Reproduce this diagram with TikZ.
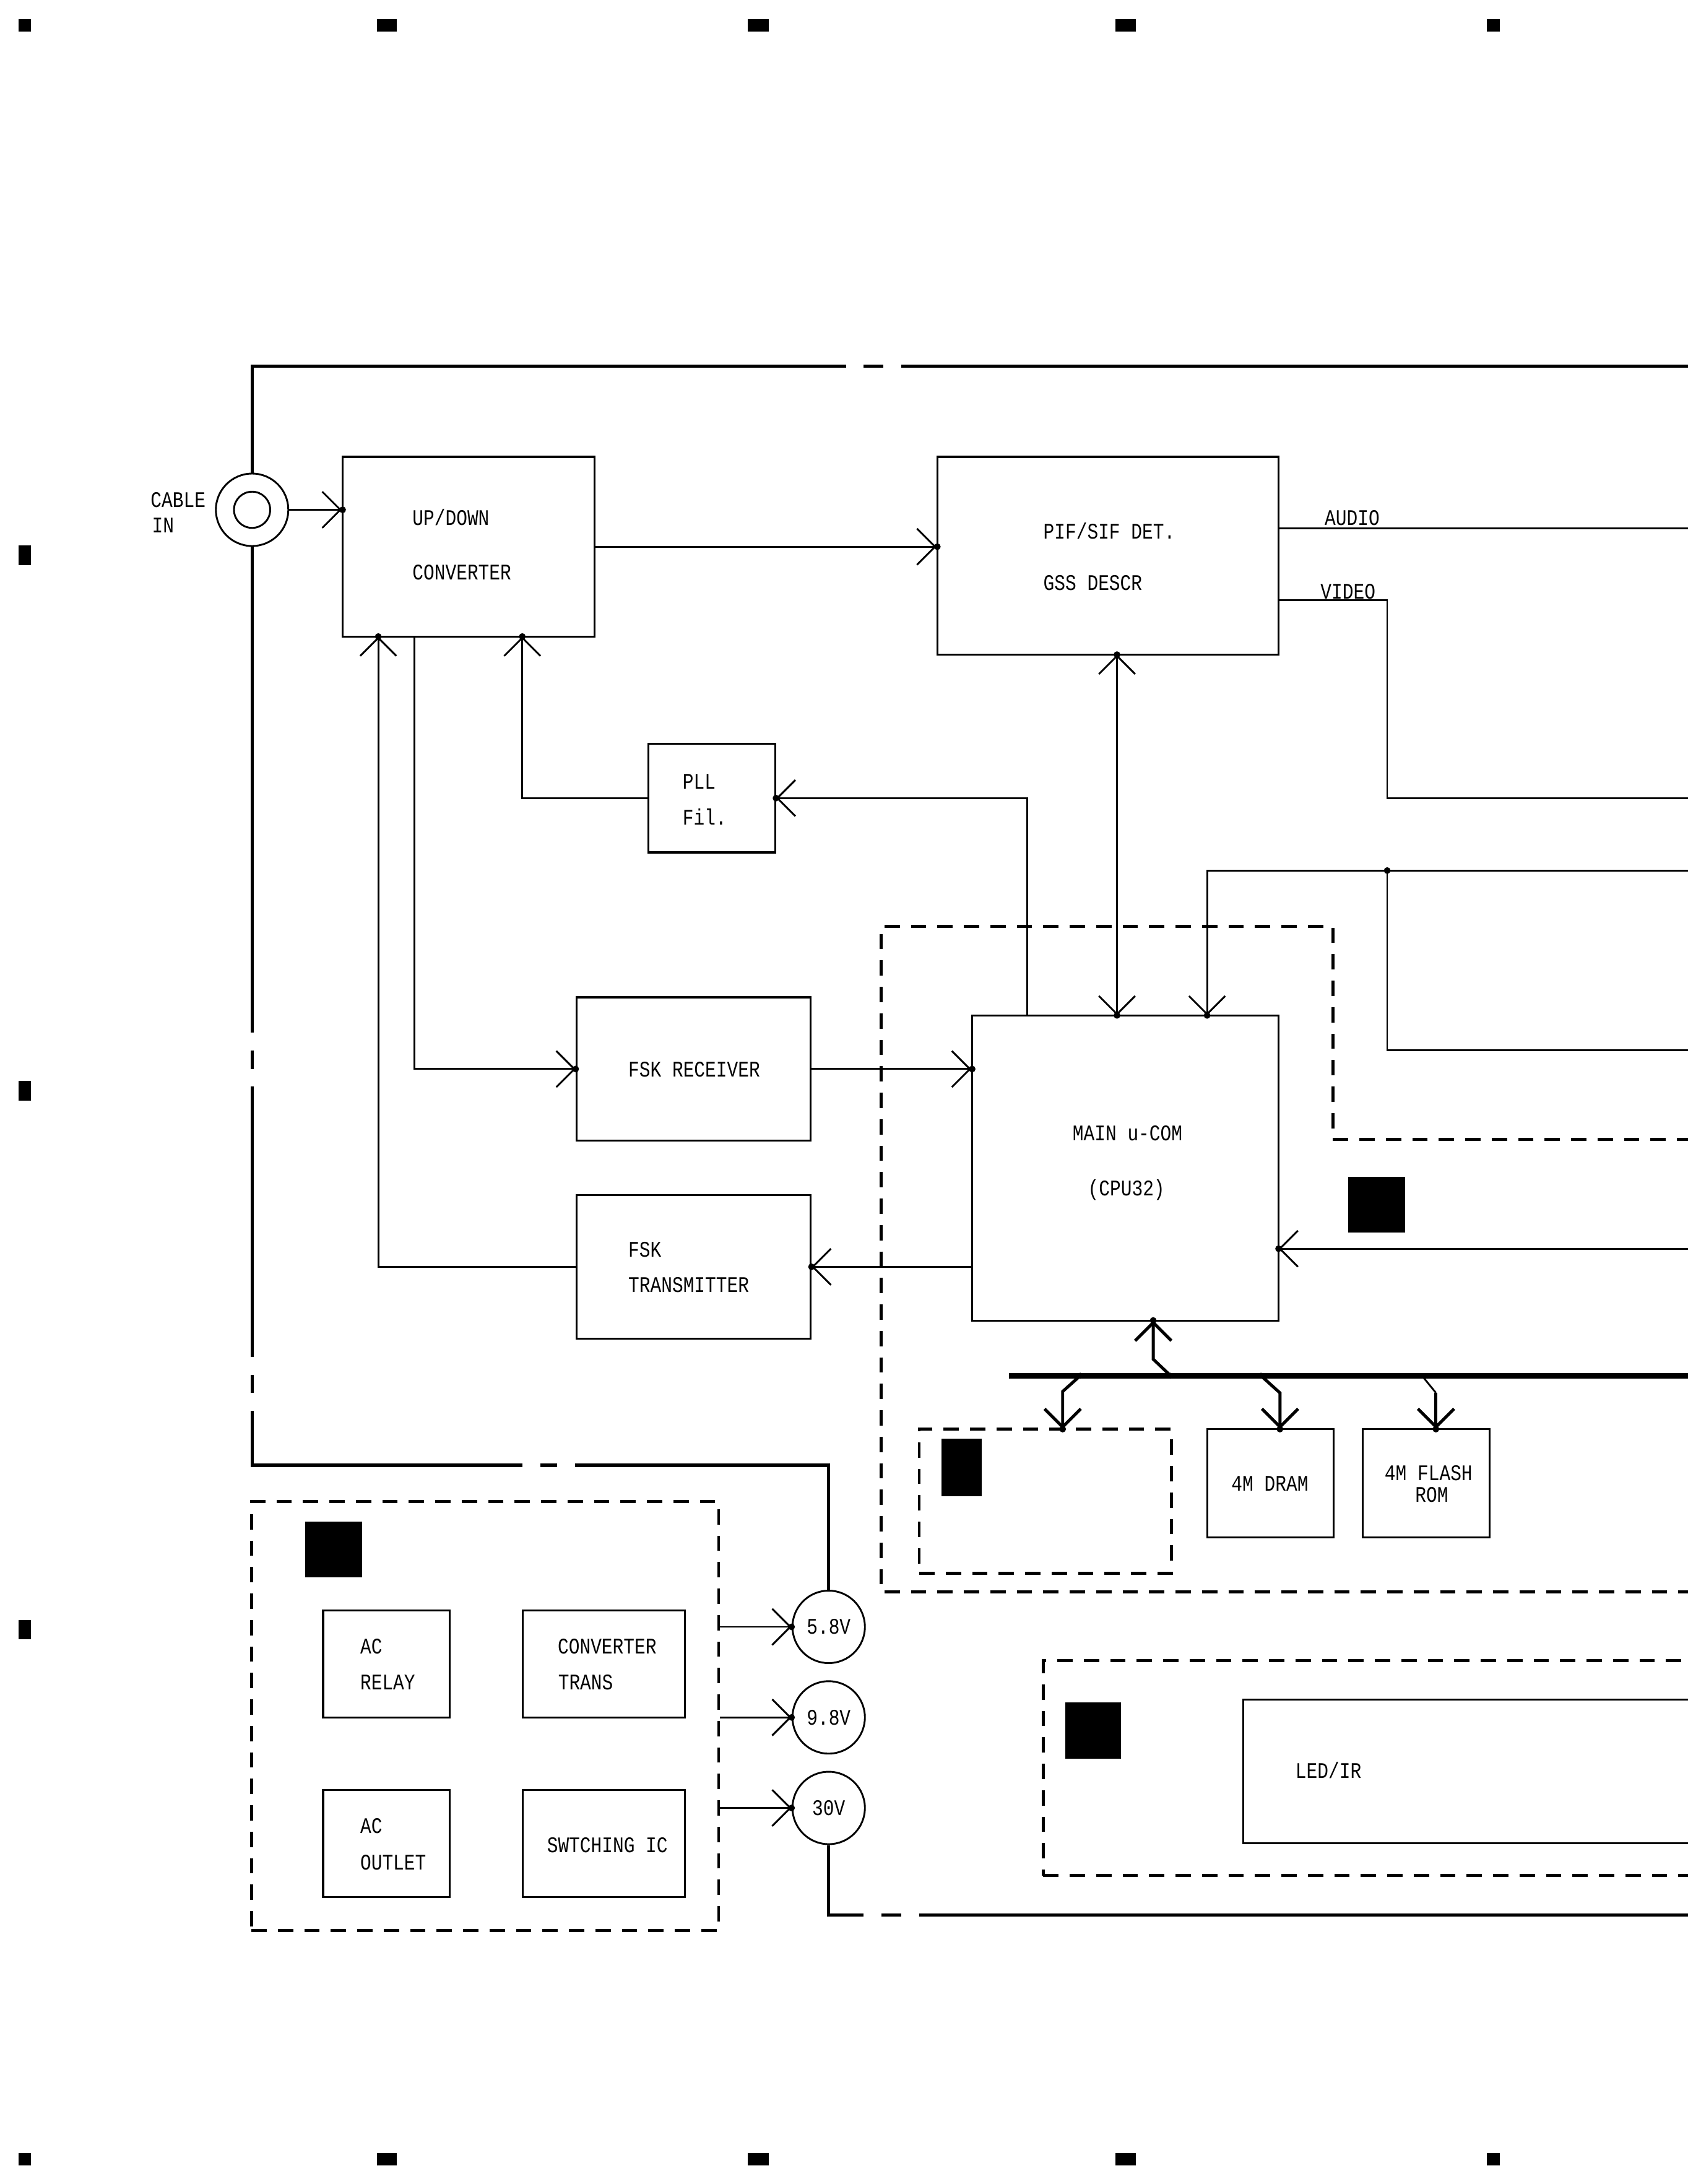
\documentclass[tikz,border=0pt]{standalone}
\usepackage{fontspec}
\newfontfamily\plotfont[FakeStretch=0.82]{Liberation Mono}
\usetikzlibrary{arrows.meta,fit}
\begin{document}
\begin{tikzpicture}[x=1pt,y=-1pt,
  box/.style={draw, line width=1.35pt, inner sep=0pt},
  dbox/.style={draw, line width=2.2pt, dash pattern=on 11pt off 8pt, inner sep=0pt},
  dline/.style={line width=2.2pt, dash pattern=on 11pt off 8pt},
  lbl/.style={inner sep=0pt, anchor=west, text height=10.5pt, text depth=0pt, font=\plotfont\fontsize{16pt}{18pt}\selectfont},
  wire/.style={line width=1.3pt},
  buswire/.style={line width=2.2pt},
  outer/.style={line width=2.3pt},
  arr/.style={-{Straight Barb[length=13pt,width=26pt]}},
  darr/.style={{Straight Barb[length=13pt,width=26pt]}-{Straight Barb[length=13pt,width=26pt]}},
  ring/.style={circle, draw, line width=1.3pt, inner sep=0pt, font=\plotfont\fontsize{16pt}{18pt}\selectfont},
  blk/.style={fill=black, draw=none, inner sep=0pt},
]
\useasboundingbox (0,0) rectangle (1212,1568);
\clip (0,0) rectangle (1212,1568);

% registration marks
\foreach \xa/\xb in {13.3/22.2, 270.7/284.9, 537/552, 801/815.5, 1067.5/1077}{
  \fill (\xa,13.8) rectangle (\xb,22.7);
  \fill (\xa,1545.8) rectangle (\xb,1554.7);
}
\foreach \yc in {398.7, 783, 1170}{
  \fill (13.3,\yc-7) rectangle (22.2,\yc+7);
}

% ---------- blocks ----------
\node[ring, minimum size=52pt] (cable) at (181,366) {};
\node[ring, minimum size=26pt] (cablecore) at (cable.center) {};
\node[lbl] (tcable) at (108,359) {CABLE};
\node[lbl] (tin) at (109,377) {IN};

\node[box, fit={(246,328) (427,457)}] (updown) {};
\node[lbl] (tud1) at (296,372) {UP/DOWN};
\node[lbl] (tud2) at (296,411) {CONVERTER};

\node[box, fit={(673,328) (918,470)}] (pif) {};
\node[lbl] (tpif1) at (749,381.5) {PIF/SIF DET.};
\node[lbl] (tpif2) at (749,418.5) {GSS DESCR};

\node[box, fit={(465.5,534) (556.5,612)}] (pll) {};
\node[lbl] (tpll1) at (490,561) {PLL};
\node[lbl] (tpll2) at (490,587) {Fil.};

\node[box, fit={(414,716) (582,819)}] (fskr) {};
\node[lbl] (tfskr) at (451,768) {FSK RECEIVER};

\node[box, fit={(414,858) (582,961)}] (fskt) {};
\node[lbl] (tfskt1) at (451,897) {FSK};
\node[lbl] (tfskt2) at (451,922.6) {TRANSMITTER};

\node[box, fit={(698,729) (918,948)}] (mcu) {};
\node[lbl] (tmcu1) at (770,813.6) {MAIN u-COM};
\node[lbl] (tmcu2) at (781,853) {(CPU32)};

\node[blk, fit={(968,845) (1009,885)}] (sq1) {};

% big dashed region
\draw[dline] (1215,818) -- (957,818) -- (957,665) -- (632.5,665) -- (632.5,1143) -- (1215,1143);

\node[dbox, fit={(660,1026) (841,1129.5)}] (sub) {};
\node[blk, fit={(676,1033) (705,1074)}] (sq2) {};

\node[box, fit={(867,1026) (957.5,1103.6)}] (dram) {};
\node[lbl] (tdram) at (884,1065) {4M DRAM};
\node[box, fit={(978.3,1026) (1069.5,1103.6)}] (flash) {};
\node[lbl] (tflash1) at (994,1057.6) {4M FLASH};
\node[lbl] (tflash2) at (1016,1073) {ROM};

% power block
\node[dbox, fit={(180.5,1078) (516,1386)}] (pwr) {};
\node[blk, fit={(219,1092.5) (260,1132.5)}] (sq3) {};
\node[box, fit={(232,1156) (323,1233)}] (acrelay) {};
\node[lbl] (tacr1) at (258.5,1182) {AC};
\node[lbl] (tacr2) at (258.5,1208) {RELAY};
\node[box, fit={(375.4,1156) (491.6,1233)}] (convtr) {};
\node[lbl] (tconv1) at (400.3,1182) {CONVERTER};
\node[lbl] (tconv2) at (400.6,1208) {TRANS};
\node[box, fit={(232,1285) (323,1362)}] (acout) {};
\node[lbl] (taco1) at (258.5,1311) {AC};
\node[lbl] (taco2) at (258.5,1337) {OUTLET};
\node[box, fit={(375.4,1285) (491.6,1362)}] (swic) {};
\node[lbl] (tswic) at (392.6,1324.6) {SWTCHING IC};

\node[ring, minimum size=52pt] (v58) at (595,1168) {5.8V};
\node[ring, minimum size=52pt] (v98) at (595,1233) {9.8V};
\node[ring, minimum size=52pt] (v30) at (595,1298) {30V};

% LED block
\node[dbox, fit={(749,1192.4) (1300,1346.5)}] (ledgrp) {};
\node[blk, fit={(765,1222) (805,1262.6)}] (sq4) {};
\node[box, fit={(892.5,1220) (1300,1323.5)}] (ledir) {};
\node[lbl] (tled) at (930,1271.5) {LED/IR};

% ---------- outer frame ----------
\draw[outer] (cable.north) -- (181,263) -- (607.5,263);
\draw[outer] (620,263) -- (634,263);
\draw[outer] (647,263) -- (1215,263);
\draw[outer] (cable.south) -- (181,741.5);
\draw[outer] (181,754) -- (181,767.6);
\draw[outer] (181,780) -- (181,974);
\draw[outer] (181,987) -- (181,1000);
\draw[outer] (181,1013) -- (181,1052) -- (375,1052);
\draw[outer] (388,1052) -- (400,1052);
\draw[outer] (413,1052) -- (595,1052) -- (v58.north);
\draw[outer] (v30.south) -- (595,1375) -- (620,1375);
\draw[outer] (633,1375) -- (647,1375);
\draw[outer] (660,1375) -- (1215,1375);

% ---------- tap coordinates ----------
\coordinate (udA) at (271.6,457);
\coordinate (udB) at (297.4,457);
\coordinate (udC) at (375,457);
\coordinate (pifB) at (802,470);
\coordinate (pifAu) at (918,379.3);
\coordinate (pifVi) at (918,431);
\coordinate (mcuA) at (737.4,729);
\coordinate (mcuB) at (802,729);
\coordinate (mcuC) at (866.7,729);
\coordinate (mcuD) at (828,948);
\coordinate (mcuE) at (918,896.5);
\coordinate (junc) at (996,625);
\coordinate (busL) at (724.5,987.7);
\coordinate (busR) at (1215,987.7);
\coordinate (b1) at (775.6,987.7);
\coordinate (b0) at (840.5,987.7);
\coordinate (b2) at (905.4,987.7);
\coordinate (b3) at (1021,987.7);
\coordinate (subT) at (763,1026);
\coordinate (dramT) at (919,1026);
\coordinate (flashT) at (1031,1026);
\coordinate (eAudio) at (1215,379.3);
\coordinate (eVideo) at (1215,573);
\coordinate (eTop) at (1215,625);
\coordinate (eMid) at (1215,754);
\coordinate (eIn) at (1215,896.5);
\coordinate (udIn) at (246,366);
\coordinate (pifIn) at (673,392.5);
\coordinate (mcuIn) at (698,767.5);

% ---------- connectors ----------
\draw[wire,arr] (cable.east) -- (updown.west |- cable.east);
\draw[wire,arr] (updown.east) -- (updown.east -| pif.west);
\draw[wire,arr] (pll.west) -| (udC);
\draw[wire,arr] (mcuA) |- (pll.east);
\draw[wire,arr] (udB) |- (fskr.west);
\draw[wire,arr] (fskr.east) -- (fskr.east -| mcu.west);
\draw[wire,arr] (fskt.east -| mcu.west) -- (fskt.east);
\draw[wire,arr] (fskt.west) -| (udA);
\draw[wire,darr] (pifB) -- (mcuB);
\draw[wire] (pifAu) -- (eAudio);
\node[lbl, anchor=south west] (taudio) at (951,377.5) {AUDIO};
\draw[wire] (pifVi) -- (996,431) -- (996,573) -- (eVideo);
\node[lbl, anchor=south west] (tvideo) at (948,430) {VIDEO};
\draw[wire,arr] (eTop) -- (866.7,625) -- (mcuC);
\draw[wire] (junc) -- (996,754) -- (eMid);
\draw[wire,arr] (eIn) -- (mcuE);

% bus
\draw[line width=3.7pt] (busL) -- (busR);
\draw[buswire,arr] (b0) -- (828,975.8) -- (mcuD);
\draw[buswire,arr] (b1) -- (763,999) -- (subT);
\draw[buswire,arr] (b2) -- (919,1000) -- (dramT);
\draw[wire] (b3) -- (1031,1000);
\draw[buswire,arr] (1031,1000) -- (flashT);

% power outputs
\draw[wire,arr] (v58.west -| pwr.east) -- (v58.west);
\draw[wire,arr] (v98.west -| pwr.east) -- (v98.west);
\draw[wire,arr] (v30.west -| pwr.east) -- (v30.west);

% tip dots
\foreach \p in {udIn, pifIn, udA, udC, pll.east, fskr.west, mcuIn, fskt.east,
  pifB, mcuB, mcuC, mcuE, mcuD, subT, dramT, flashT, v58.west, v98.west, v30.west, junc}{
  \fill (\p) circle (2.4pt);
}
\foreach \p in {b0,b1,b2}{ \fill (\p) circle (2.2pt); }
\end{tikzpicture}
\end{document}
